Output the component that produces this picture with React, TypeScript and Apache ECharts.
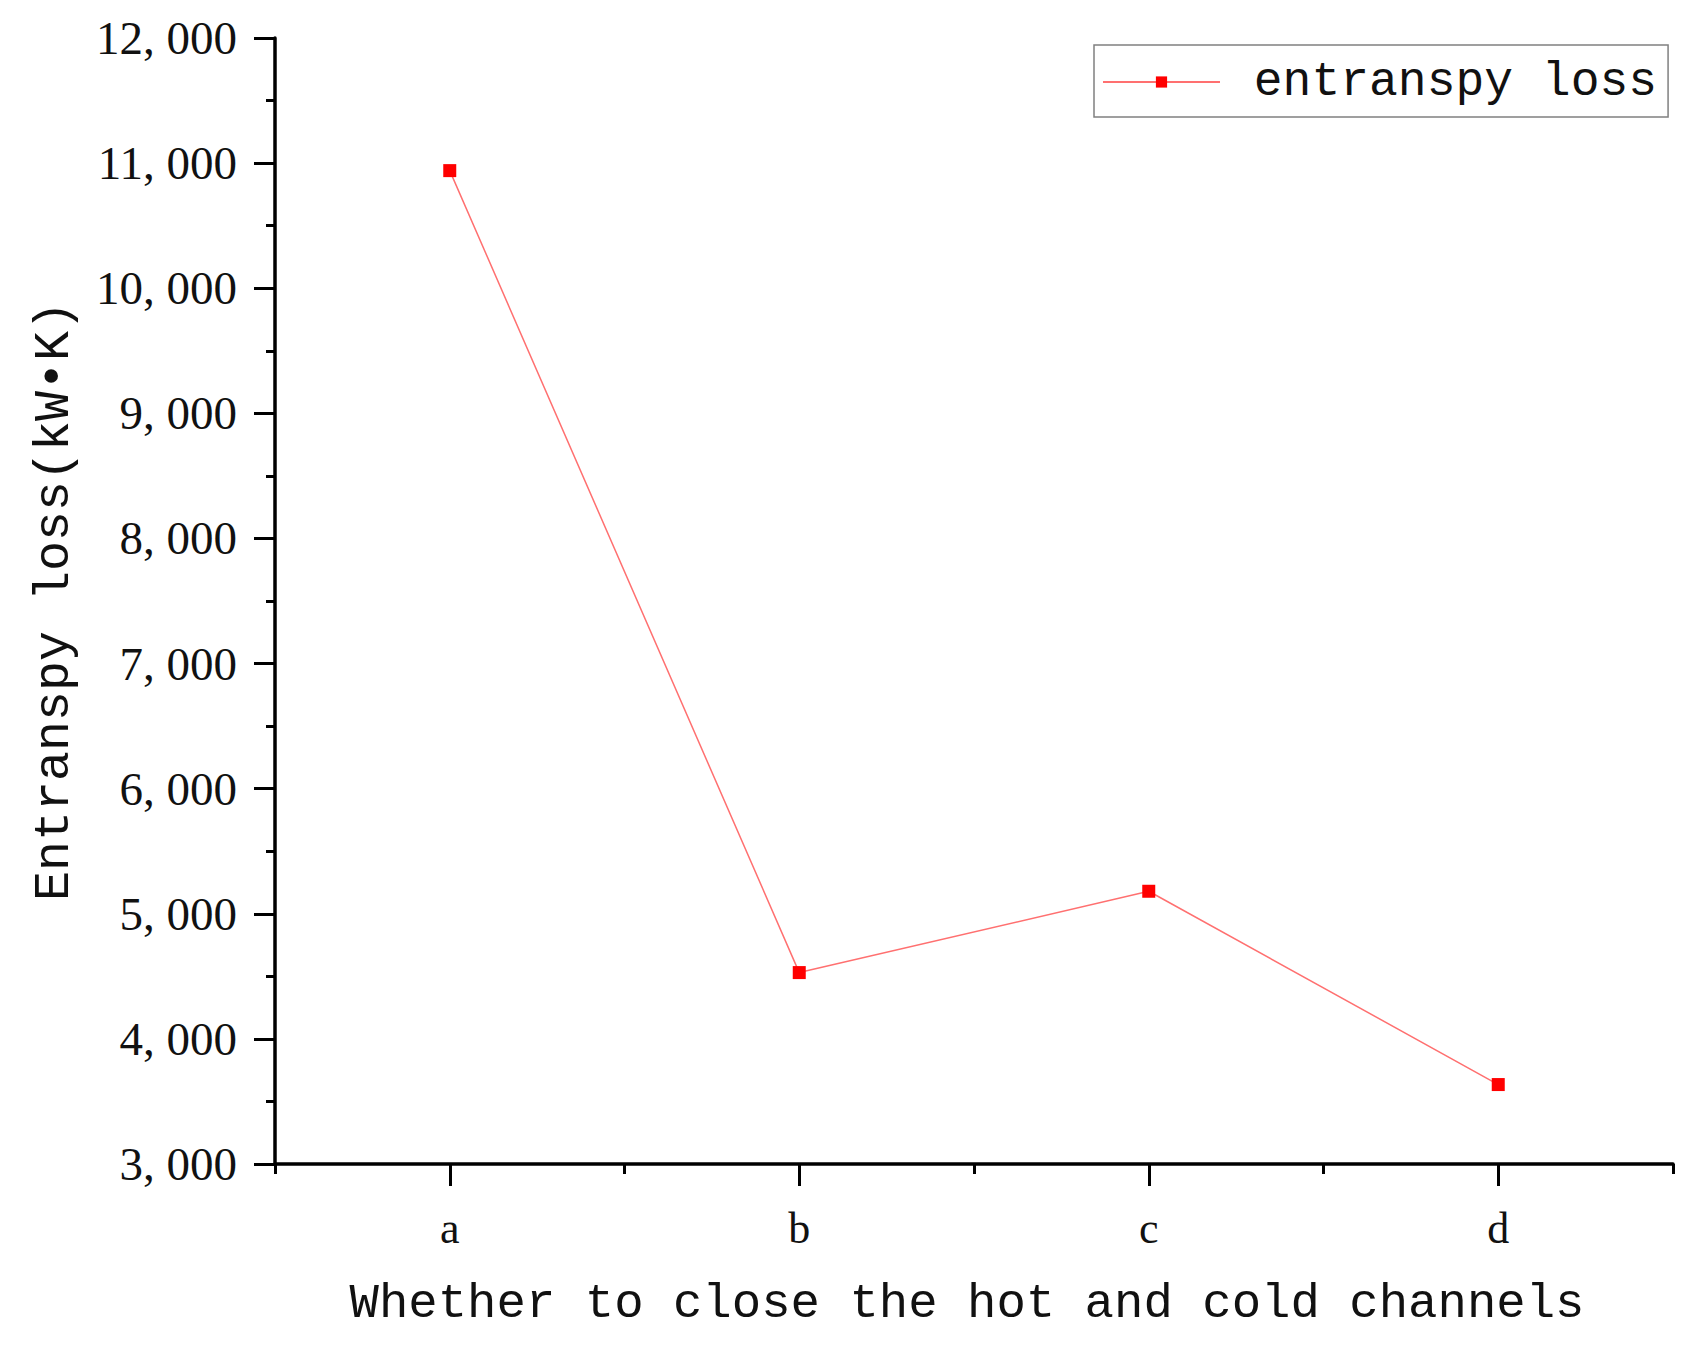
import React, { useEffect, useRef } from "react";
import * as echarts from "echarts";

const categories = ["a", "b", "c", "d"];
const entranspyLoss = [10940, 4530, 5180, 3635];
const yMin = 3000;
const yMax = 12000;
const yInterval = 1000;
const seriesName = "entranspy loss";
const xTitle = "Whether to close the hot and cold channels";
const yTitle = "Entranspy loss(kW•K)";

const MONO = "'Liberation Mono', 'DejaVu Sans Mono', monospace";
const SERIF = "'Liberation Serif', 'DejaVu Serif', serif";

export default function App() {
  const ref = useRef<HTMLDivElement>(null);
  useEffect(() => {
    document.body.style.margin = "0";
    const chart = echarts.init(ref.current!, undefined, { renderer: "svg" });
    chart.setOption({
      animation: false,
      backgroundColor: "#ffffff",
      grid: { left: 275, top: 38, right: 30, bottom: 184, containLabel: false },
      legend: {
        show: true,
        left: 1094,
        top: 45,
        orient: "horizontal",
        data: [seriesName],
        formatter: (n: string) => " " + n,
        itemWidth: 117,
        itemHeight: 14,
        padding: [13, 11, 11, 8],
        borderColor: "#808080",
        borderWidth: 1.5,
        textStyle: { fontFamily: MONO, fontSize: 48, color: "#111" },
      },
      xAxis: [
        {
          type: "category",
          data: categories,
          boundaryGap: true,
          axisLine: { show: true, lineStyle: { color: "#000", width: 3.5 } },
          axisTick: { show: true, alignWithLabel: false, length: 10, lineStyle: { color: "#000", width: 3 } },
          axisLabel: { show: true, margin: 42, fontFamily: SERIF, fontSize: 44, color: "#111" },
          splitLine: { show: false },
          name: xTitle,
          nameLocation: "middle",
          nameGap: 115,
          nameTextStyle: { fontFamily: MONO, fontSize: 49, color: "#111", padding: [0, 14, 0, 0] },
        },
        {
          type: "category",
          data: categories,
          boundaryGap: true,
          position: "bottom",
          axisLine: { show: false },
          axisTick: { show: true, alignWithLabel: true, length: 22, lineStyle: { color: "#000", width: 3 } },
          axisLabel: { show: false },
          splitLine: { show: false },
        },
      ],
      yAxis: {
        type: "value",
        min: yMin,
        max: yMax,
        interval: yInterval,
        axisLine: { show: true, lineStyle: { color: "#000", width: 3.5 } },
        axisTick: { show: true, length: 21, lineStyle: { color: "#000", width: 3 } },
        minorTick: { show: true, splitNumber: 2, length: 9, lineStyle: { color: "#000", width: 3 } },
        splitLine: { show: false },
        axisLabel: {
          margin: 38,
          fontFamily: SERIF,
          fontSize: 47,
          color: "#111",
          formatter: (v: number) => {
            const s = Math.round(v).toString();
            return s.length > 3 ? s.slice(0, s.length - 3) + ", " + s.slice(s.length - 3) : s;
          },
        },
        name: yTitle,
        nameLocation: "middle",
        nameGap: 196,
        nameRotate: 90,
        nameTextStyle: { fontFamily: MONO, fontSize: 50, color: "#111" },
      },
      series: [
        {
          name: seriesName,
          type: "line",
          data: entranspyLoss,
          xAxisIndex: 0,
          symbol: "rect",
          symbolSize: 13,
          showSymbol: true,
          lineStyle: { color: "#ff7070", width: 1.5 },
          itemStyle: { color: "#ff0000" },
        },
      ],
    });
    return () => chart.dispose();
  }, []);
  return <div ref={ref} style={{ width: 1703, height: 1348 }} />;
}
